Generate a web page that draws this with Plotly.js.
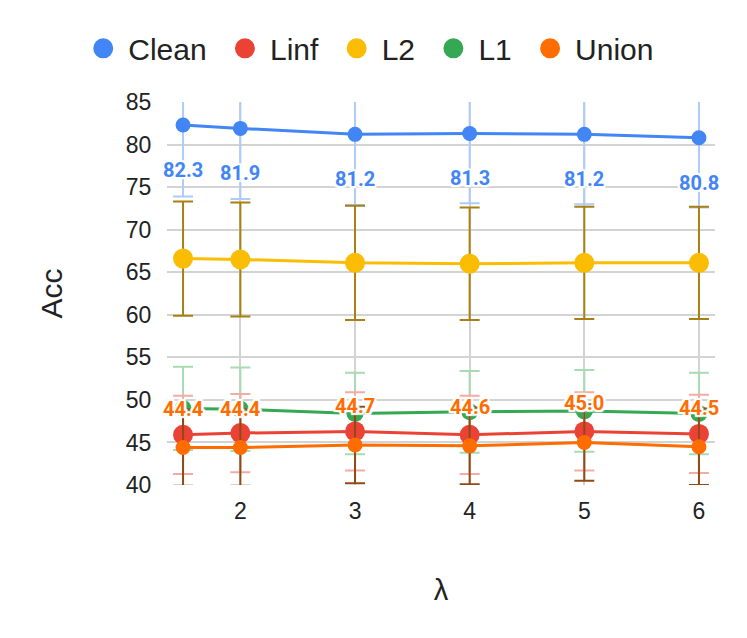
<!DOCTYPE html>
<html>
    <head>
        <script src="https://cdn.plot.ly/plotly-3.0.1.min.js"></script>
        <style>body { margin: 0; background: #fff; }</style>
    </head>
    <body>
        <div id="plot"></div>
        <script type="text/javascript">
            // lambda values on the x axis
            var lambdas = [1.5, 2, 3, 4, 5, 6];

            var names = ['Clean', 'Linf', 'L2', 'L1', 'Union'];

            var clean = [82.3, 81.9, 81.2, 81.3, 81.2, 80.8];
            var cleanErr = [8.4, 8.3, 8.3, 8.2, 8.2, 8.2];

            var linf = [45.9, 46.1, 46.3, 45.9, 46.3, 46.0];
            var linfErr = [4.6, 4.6, 4.6, 4.6, 4.6, 4.6];

            var l2 = [66.6, 66.5, 66.1, 66.0, 66.1, 66.1];
            var l2Err = [6.7, 6.7, 6.7, 6.6, 6.6, 6.6];

            var l1 = [49.0, 48.9, 48.4, 48.6, 48.7, 48.4];
            var l1Err = [4.9, 4.9, 4.8, 4.8, 4.8, 4.8];

            var union = [44.4, 44.4, 44.7, 44.6, 45.0, 44.5];
            var unionErr = [4.5, 4.5, 4.5, 4.5, 4.5, 4.5];

            var colors = {
                Clean: '#4285f4', Linf: '#ea4335', L2: '#fbbc04', L1: '#34a853', Union: '#ff6d01'
            };
            var errColors = {
                Clean: '#aecbfa', Linf: '#f5aaa4', L2: '#a88012', L1: '#a8dab4', Union: '#914a14'
            };

            function series(name, ys, errs, size) {
                return {
                    x: lambdas, y: ys, name: name, mode: 'lines+markers', showlegend: false,
                    line: {color: colors[name], width: 3},
                    marker: {color: colors[name], size: size},
                    error_y: {type: 'data', array: errs, visible: true, color: errColors[name], thickness: 2, width: 10},
                    hoverinfo: 'x+y'
                };
            }

            // drawing order: later traces sit on top
            var traces = [
                series('Clean', clean, cleanErr, 15),
                series('L2', l2, l2Err, 20),
                series('L1', l1, l1Err, 17),
                series('Linf', linf, linfErr, 20),
                series('Union', union, unionErr, 15)
            ];

            // legend entries: dots only (trailing nbsp widens the gap between items)
            names.forEach(function(n) {
                traces.push({
                    x: [null], y: [null], name: n + '\u00a0', mode: 'markers', showlegend: true,
                    marker: {color: colors[n], size: 16, line: {color: colors[n], width: 4}}
                });
            });

            var halo = '2px 2px 1px #fff, -2px -2px 1px #fff, 2px -2px 1px #fff, -2px 2px 1px #fff, ' +
                       '0 2px 1px #fff, 2px 0 1px #fff, 0 -2px 1px #fff, -2px 0 1px #fff';

            var annotations = [];
            lambdas.forEach(function(x, i) {
                annotations.push({
                    x: x, y: clean[i], text: clean[i].toFixed(1), showarrow: false, yshift: -45,
                    font: {family: 'Roboto, Arial, sans-serif', size: 20, weight: 'bold', color: colors.Clean, shadow: halo}
                });
                annotations.push({
                    x: x, y: union[i], text: union[i].toFixed(1), showarrow: false, yshift: 39,
                    font: {family: 'Roboto, Arial, sans-serif', size: 20, weight: 'bold', color: colors.Union, shadow: halo}
                });
            });

            var layout = {
                width: 747, height: 638,
                margin: {l: 167, r: 32, t: 102, b: 153, autoexpand: false},
                paper_bgcolor: '#fff', plot_bgcolor: '#fff',
                font: {family: '"Liberation Sans", Arial, sans-serif', color: '#222'},
                showlegend: true,
                legend: {
                    orientation: 'h',
                    x: -0.162, xanchor: 'left', y: 1.208, yanchor: 'top',
                    itemwidth: 40,
                    font: {size: 30, color: '#222'}, traceorder: 'normal'
                },
                xaxis: {
                    range: [1.36, 6.14], tickvals: [2, 3, 4, 5, 6],
                    showgrid: true, gridcolor: '#d3d3d3', gridwidth: 1.5, zeroline: false,
                    ticks: 'outside', ticklen: 5, tickcolor: 'rgba(0,0,0,0)',
                    tickfont: {size: 23},
                    title: {text: 'λ', font: {size: 29}, standoff: 57}
                },
                yaxis: {
                    range: [40, 85], tick0: 40, dtick: 5,
                    showgrid: true, gridcolor: '#d3d3d3', gridwidth: 1.5, zeroline: false,
                    ticks: 'outside', ticklen: 10, tickcolor: 'rgba(0,0,0,0)',
                    tickfont: {size: 23},
                    title: {text: 'Acc', font: {size: 30}, standoff: 54}
                },
                annotations: annotations
            };

            Plotly.newPlot('plot', traces, layout, {displayModeBar: false});
        </script>
    </body>
</html>
